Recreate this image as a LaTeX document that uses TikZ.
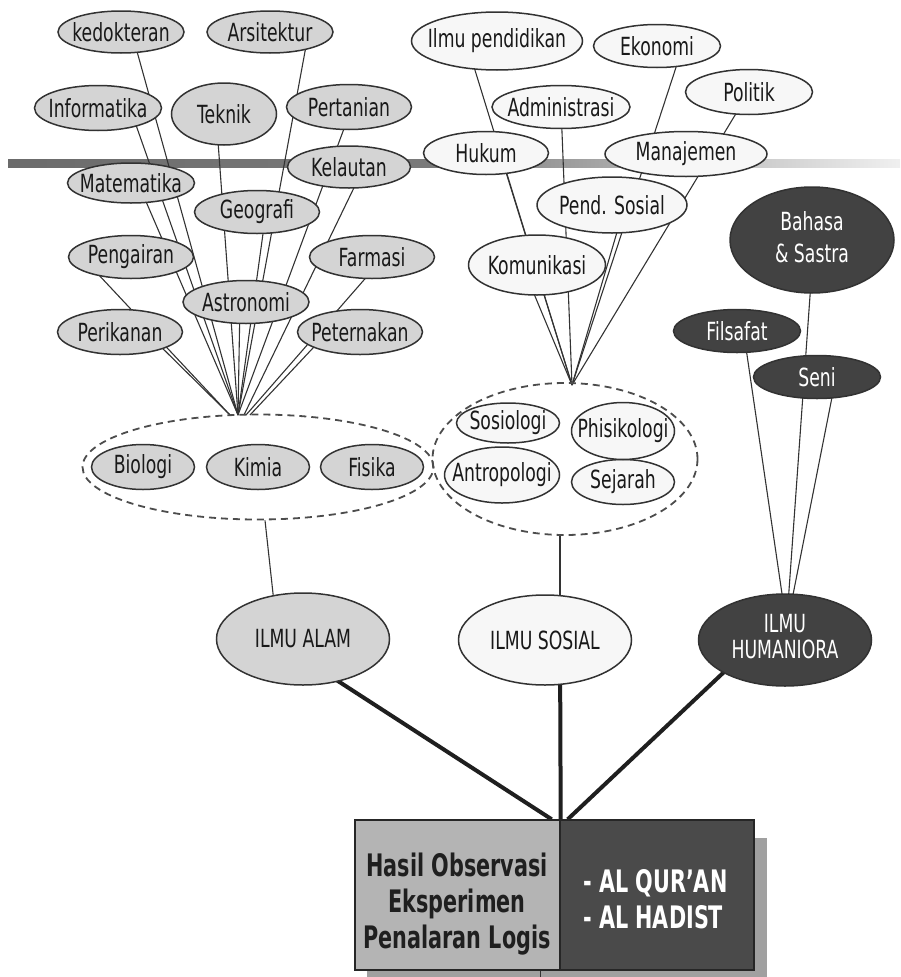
\documentclass[tikz,border=0pt]{standalone}
\usepackage{fontspec}
\newfontfamily\dfont[FakeStretch=0.69]{DejaVu Sans}
\newfontfamily\bfont[FakeStretch=0.67]{DejaVu Sans}
\usetikzlibrary{shapes.geometric,backgrounds}
\definecolor{natfill}{RGB}{212,212,212}
\definecolor{socfill}{RGB}{247,247,247}
\definecolor{humfill}{RGB}{66,66,66}
\definecolor{edgec}{RGB}{50,50,50}
\definecolor{boxleft}{RGB}{180,180,180}
\definecolor{boxright}{RGB}{74,74,74}
\definecolor{boxshadow}{RGB}{160,160,160}
\newcommand\zl[1]{\makebox[0pt]{#1}}
\tikzset{
  sz/.style 2 args={minimum width=#1pt, minimum height=#2pt},
  oval/.style={ellipse, draw=edgec, line width=1.5pt, inner sep=0pt,
    font=\dfont\fontsize{25}{30}\selectfont, text=black!90},
  natnode/.style={oval, fill=natfill},
  socnode/.style={oval, fill=socfill},
  humnode/.style={oval, fill=humfill, text=white},
  group/.style={ellipse, draw=black!70, dash pattern=on 7pt off 5pt, line width=1.8pt, inner sep=0pt},
  twig/.style={draw=black!80, line width=1.1pt},
  trunk/.style={draw=black!88, line width=4pt},
  panel/.style={rectangle, draw=black!85, line width=1.4pt, inner sep=0pt},
  paneltext/.style={font=\bfont\bfseries\fontsize{31}{36}\selectfont, inner sep=0pt},
}
\begin{document}
\begin{tikzpicture}[x=1pt,y=-1pt]
\useasboundingbox (0,0) rectangle (900,977);

% ---------- natural sciences ----------
\node[group, sz={351}{105}] (natgroup) at (258,467) {};
\node[natnode, sz={126}{42}] (kedokteran) at (121,32) {\zl{kedokteran}};
\node[natnode, sz={126}{42}] (arsitektur) at (270,32) {\zl{Arsitektur}};
\node[natnode, sz={127}{45}] (informatika) at (98,108) {\zl{Informatika}};
\node[natnode, sz={105}{62}] (teknik) at (224,114) {\zl{Teknik}};
\node[natnode, sz={125}{45}] (pertanian) at (349,107) {\zl{Pertanian}};
\node[natnode, sz={123}{42}] (kelautan) at (349,167) {\zl{Kelautan}};
\node[natnode, sz={127}{40}] (matematika) at (131,183) {\zl{Matematika}};
\node[natnode, sz={125}{43}] (geografi) at (257,212) {\zl{Geografi}};
\node[natnode, sz={125}{43}] (pengairan) at (131,257) {\zl{Pengairan}};
\node[natnode, sz={125}{43}] (farmasi) at (372,257) {\zl{Farmasi}};
\node[natnode, sz={126}{43}] (astronomi) at (246,302) {\zl{Astronomi}};
\node[natnode, sz={125}{45}] (perikanan) at (120,332) {\zl{Perikanan}};
\node[natnode, sz={125}{45}] (peternakan) at (360,332) {\zl{Peternakan}};
\node[natnode, sz={103}{45}] (biologi) at (143,467) {\zl{Biologi}};
\node[natnode, sz={103}{45}] (kimia) at (258,467) {\zl{Kimia}};
\node[natnode, sz={103}{45}] (fisika) at (372,467) {\zl{Fisika}};
\coordinate (natc) at (238,415);

% ---------- social sciences ----------
\node[group, sz={265}{152}] (socgroup) at (565,459) {};
\node[socnode, sz={171}{58}] (ilmupend) at (497,41) {\zl{Ilmu pendidikan}};
\node[socnode, sz={127}{43}] (ekonomi) at (657,46) {\zl{Ekonomi}};
\node[socnode, sz={127}{45}] (politik) at (749,92) {\zl{Politik}};
\node[socnode, sz={138}{43}] (administrasi) at (561,107) {\zl{Administrasi}};
\node[socnode, sz={125}{43}] (hukum) at (486,153) {\zl{Hukum}};
\node[socnode, sz={162}{45}] (manajemen) at (686,154) {\zl{Manajemen}};
\node[socnode, sz={150}{56}] (pendsosial) at (612,205) {\zl{Pend. Sosial}};
\node[socnode, sz={137}{60}] (komunikasi) at (537,265) {\zl{Komunikasi}};
\node[socnode, sz={103}{40}] (sosiologi) at (508,423) {\zl{Sosiologi}};
\node[socnode, sz={115}{56}] (antropologi) at (502,475) {\zl{Antropologi}};
\node[socnode, sz={103}{45}] (sejarah) at (623,482) {\zl{Sejarah}};
\node[socnode, sz={103}{57}] (phisikologi) at (623,431) {\zl{Phisikologi}};
\coordinate (socc) at (572,385);

% ---------- humanities ----------
\node[humnode, sz={164}{106}, font=\dfont\fontsize{25}{32}\selectfont] (bahasa) at (812,240)
  {\zl{\raisebox{-4pt}{\begin{tabular}{@{}c@{}}Bahasa\\ \& Sastra\end{tabular}}}};
\node[humnode, sz={127}{43}] (filsafat) at (737,331) {\zl{Filsafat}};
\node[humnode, sz={127}{43}] (seni) at (817,377) {\zl{Seni}};

% ---------- level 2 ----------
\node[natnode, sz={173}{92}] (ilmualam) at (303,639) {\zl{ILMU ALAM}};
\node[socnode, sz={173}{90}] (ilmusosial) at (545,640) {\zl{ILMU SOSIAL}};
\node[humnode, sz={173}{92}, font=\dfont\fontsize{25}{26}\selectfont] (ilmuhum) at (785,640)
  {\zl{\raisebox{-6pt}{\begin{tabular}{@{}c@{}}ILMU\\ HUMANIORA\end{tabular}}}};

% ---------- base box ----------
\fill[boxshadow] (367,838) rectangle (767,977);
\node[panel, fill=boxleft, minimum width=205pt, minimum height=150pt] (leftbox) at (457.5,895) {};
\node[panel, fill=boxright, minimum width=194pt, minimum height=150pt] (rightbox) at (657,895) {};
\node[paneltext, text=black!88, align=center] (obstext) at (457,904)
  {Hasil Observasi\\ Eksperimen\\ Penalaran Logis};
\node[paneltext, text=white, align=left, anchor=west] (quran) at (583,899)
  {- AL QUR’AN\\ - AL HADIST};

% ---------- connectors & bar (behind) ----------
\begin{pgfonlayer}{background}
  \shade[left color=black!58, right color=black!52] (8,159) rectangle (430,167);
  \shade[left color=black!52, right color=black!6] (430,159) rectangle (900,167);

  \draw[twig] ([xshift=10.6pt]kedokteran.center) -- (natc);
  \draw[twig] ([xshift=38.6pt]arsitektur.center) -- (natc);
  \draw[twig] ([xshift=32pt]informatika.center) -- (natc);
  \draw[twig] ([xshift=-8pt]teknik.center) -- (natc);
  \draw[twig] ([xshift=3pt]pertanian.center) -- (natc);
  \draw[twig] ([xshift=15pt]kelautan.center) -- ([xshift=6pt]natc);
  \draw[twig] ([xshift=7pt]matematika.center) -- (natc);
  \draw[twig] ([xshift=9pt]geografi.center) -- (natc);
  \draw[twig] ([xshift=-49pt]pengairan.center) -- ([xshift=-8pt]natc);
  \draw[twig] ([xshift=12pt]farmasi.center) -- ([xshift=8pt]natc);
  \draw[twig] ([xshift=-6pt]astronomi.center) -- (natc);
  \draw[twig] ([xshift=26pt]perikanan.center) -- ([xshift=-8pt]natc);
  \draw[twig] ([xshift=-32pt]peternakan.center) -- ([xshift=12pt]natc);

  \draw[twig] ([xshift=-31pt]ilmupend.center) -- (socc);
  \draw[twig] ([xshift=26pt]ekonomi.center) -- (socc);
  \draw[twig] (politik.center) -- (socc);
  \draw[twig] (administrasi.center) -- (socc);
  \draw[twig] ([xshift=14pt]hukum.center) -- (socc);
  \draw[twig] ([xshift=13pt]pendsosial.center) -- (socc);
  \draw[twig] ([xshift=-15pt]komunikasi.center) -- (socc);

  \draw[twig] ([xshift=6.5pt]filsafat.center) -- ([xshift=-2.5pt,yshift=-4pt]ilmuhum.north);
  \draw[twig] ([xshift=2pt]bahasa.center) -- ([xshift=3.5pt,yshift=-4pt]ilmuhum.north);
  \draw[twig] ([xshift=19pt]seni.center) -- ([xshift=7.5pt,yshift=-4pt]ilmuhum.north);

  \draw[twig] ([xshift=7pt]natgroup.south) -- ([xshift=-25pt]ilmualam.center);
  \draw[twig] ([xshift=-5pt]socgroup.south) -- ([xshift=15pt]ilmusosial.center);

  \draw[trunk] ([xshift=-30pt]ilmualam.center) -- ([xshift=-9pt]leftbox.north east);
  \draw[trunk] ([xshift=15pt]ilmusosial.center) -- (leftbox.north east);
  \draw[trunk] ([xshift=-27pt]ilmuhum.center) -- ([xshift=7pt]leftbox.north east);
\end{pgfonlayer}
\draw[twig, line width=1.5pt] ([xshift=-20pt]leftbox.south east) -- ++(0,7);
\end{tikzpicture}
\end{document}
